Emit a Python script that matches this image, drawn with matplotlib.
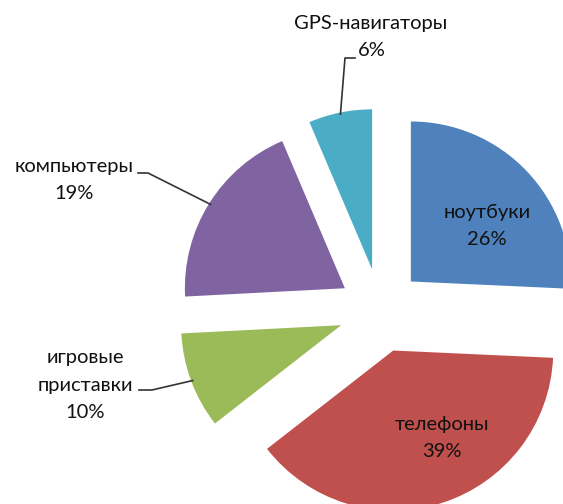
import numpy as np
import matplotlib
matplotlib.use("Agg")
import matplotlib.pyplot as plt

categories = ["ноутбуки", "телефоны", "игровые\nприставки", "компьютеры", "GPS-навигаторы"]
values = [25.7, 38.7, 9.7, 19.4, 6.4]
colors = ["#4F81BD", "#C0504D", "#9BBB59", "#8064A2", "#4BACC6"]

plt.rcParams['font.family'] = ['Lato', 'DejaVu Sans']

W, H = 563, 504
fig = plt.figure(figsize=(W / 100, H / 100), dpi=100)
ax = fig.add_axes([0, 0, 1, 1])

R = 160
center = (380.5, 193.5)
explode = [42] * len(values)
wedges, _ = ax.pie(values, colors=colors, startangle=90, counterclock=False,
                   radius=R, center=center, explode=explode, frame=True)
ax.set_xlim(0, W)
ax.set_ylim(0, H)
ax.set_aspect('equal')
ax.axis('off')

total = sum(values)
pct = [f"{round(v / total * 100)}%" for v in values]

def arc_point(w, frac=1.0):
    a = np.deg2rad((w.theta1 + w.theta2) / 2)
    cx, cy = w.center
    return cx + R * frac * np.cos(a), cy + R * frac * np.sin(a)

fs = 14.5
tc = "#111111"
ls = 1.75
# inside labels
ax.text(487, 278, f"{categories[0]}\n{pct[0]}", ha='center', va='center',
        fontsize=fs, color=tc, linespacing=ls)
ax.text(442, 66, f"{categories[1]}\n{pct[1]}", ha='center', va='center',
        fontsize=fs, color=tc, linespacing=ls)

lc = "#333333"
# GPS label
x0, y0 = arc_point(wedges[4], 0.99)
ax.plot([x0, 345, 355], [y0, 446, 446], color=lc, lw=1.2)
ax.text(371, 481, categories[4], ha='center', va='center', fontsize=fs, color=tc)
ax.text(372, 453, pct[4], ha='center', va='center', fontsize=fs, color=tc)

# computers label
x0, y0 = arc_point(wedges[3], 0.99)
ax.plot([x0, 148, 138], [y0, 331, 331], color=lc, lw=1.2)
ax.text(74, 324, f"{categories[3]}\n{pct[3]}", ha='center', va='center',
        fontsize=fs, color=tc, linespacing=ls)

# consoles label
x0, y0 = arc_point(wedges[2], 0.99)
ax.plot([x0, 152, 139], [y0, 114, 114], color=lc, lw=1.2)
ax.text(85, 119, f"{categories[2]}\n{pct[2]}", ha='center', va='center',
        fontsize=fs, color=tc, linespacing=ls)

fig.savefig("out.png", dpi=100)
